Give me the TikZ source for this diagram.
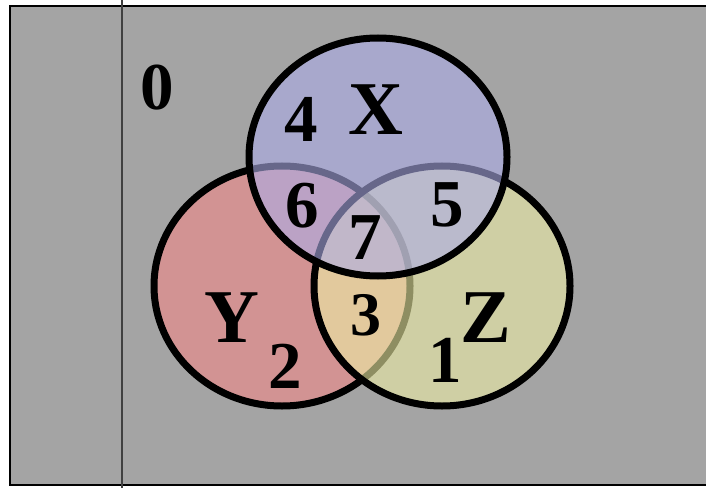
\documentclass[tikz,border=0pt]{standalone}
\usepackage{fontspec}
\setmainfont{Liberation Serif}
\usepackage{tikz}
\definecolor{bggray}{RGB}{164,164,164}
\definecolor{xblue}{RGB}{172,172,231}
\definecolor{yred}{RGB}{242,137,137}
\definecolor{zyellow}{RGB}{237,237,164}

\begin{document}
\begin{tikzpicture}[x=1pt,y=1pt,
  set/.style={line width=7pt,fill opacity=0.6},
  lbl/.style={font=\fontsize{76}{76}\selectfont\bfseries,inner sep=0pt},
  num/.style={font=\fontsize{67}{67}\selectfont\bfseries,inner sep=0pt}]
\useasboundingbox (0,0) rectangle (706,488);
% universe
\draw[line width=2pt,fill=bggray] (10,3) rectangle (720,482);
\draw[black!75,line width=1.2pt] (122,0) -- (122,488);
% the three sets, Y first and X on top
\draw[set,fill=yred] (282,202) ellipse [x radius=128,y radius=120];
\draw[set,fill=zyellow] (442,202) ellipse [x radius=128,y radius=120];
\draw[set,fill=xblue] (378,331) ellipse [x radius=129,y radius=119];
% set names
\node[lbl] (nx) at (376,378) {X};
\node[lbl] (ny) at (232,170) {Y};
\node[lbl] (nz) at (486,170) {Z};
% region numbers
\node[num] (r0) at (157,400) {0};
\node[num] (r1) at (445,128) {1};
\node[num] (r2) at (285,122) {2};
\node[num,font=\fontsize{62}{62}\selectfont\bfseries] (r3) at (366,173) {3};
\node[num] (r4) at (301,369) {4};
\node[num] (r5) at (447,283) {5};
\node[num] (r6) at (302,282) {6};
\node[num] (r7) at (365,250) {7};
\end{tikzpicture}
\end{document}
